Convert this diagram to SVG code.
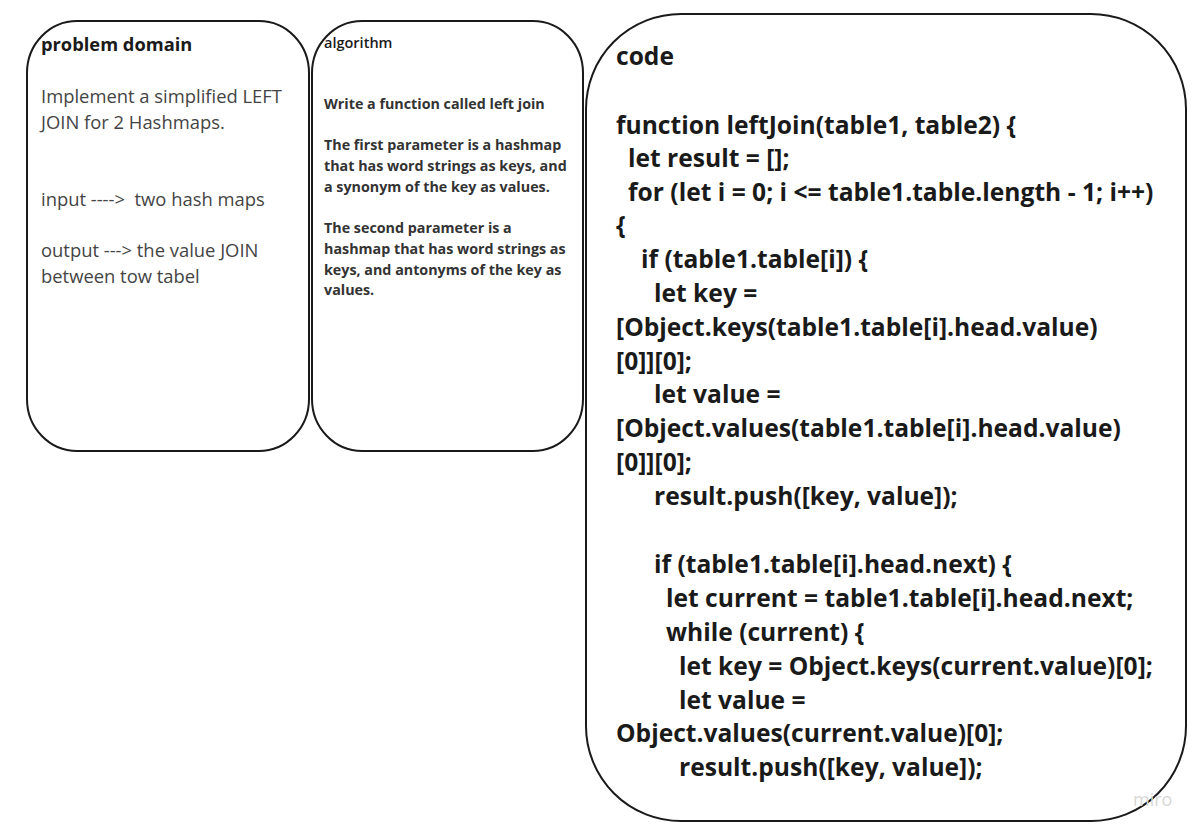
<svg xmlns="http://www.w3.org/2000/svg" width="1197" height="834" viewBox="0 0 1197 834">
<style>
.box{fill:#fff;stroke:#1a1a1a;stroke-width:2}
.t{font-family:"Open Sans","Liberation Sans",sans-serif}
.h1{font-size:18.3px;font-weight:700;fill:#1a1a1a}
.b1{font-size:18.4px;fill:#444}
.h2{font-size:14.5px;font-weight:600;fill:#1a1a1a}
.b2{font-size:14.3px;font-weight:700;fill:#333}
.c{font-size:24.6px;font-weight:700;fill:#1a1a1a}
</style>
<rect width="1197" height="834" fill="#fff"/>
<g id="problem-domain">
<rect class="box" x="27" y="21" width="282" height="430" rx="50" ry="52"/>
<text class="t h1" x="41" y="51">problem domain</text>
<text class="t b1" x="41" y="103">Implement a simplified LEFT</text>
<text class="t b1" x="41" y="129">JOIN for 2 Hashmaps.</text>
<text class="t b1" x="41" y="206" xml:space="preserve">input ---->  two hash maps</text>
<text class="t b1" x="41" y="257">output ---&gt; the value JOIN</text>
<text class="t b1" x="41" y="283">between tow tabel</text>
</g>
<g id="algorithm">
<rect class="box" x="312" y="21" width="271" height="430" rx="50" ry="52"/>
<text class="t h2" x="324" y="48">algorithm</text>
<text class="t b2" x="324" y="109">Write a function called left join</text>
<text class="t b2" x="324" y="150">The first parameter is a hashmap</text>
<text class="t b2" x="324" y="171">that has word strings as keys, and</text>
<text class="t b2" x="324" y="192">a synonym of the key as values.</text>
<text class="t b2" x="324" y="233">The second parameter is a</text>
<text class="t b2" x="324" y="254">hashmap that has word strings as</text>
<text class="t b2" x="324" y="275">keys, and antonyms of the key as</text>
<text class="t b2" x="324" y="295">values.</text>
</g>
<g id="code">
<rect class="box" x="586" y="14" width="600" height="807" rx="95" ry="95"/>
<text class="t c" x="616" y="65">code</text>
<text class="t c" x="616" y="134">function leftJoin(table1, table2) {</text>
<text class="t c" x="628" y="167">let result = [];</text>
<text class="t c" x="628" y="201">for (let i = 0; i &lt;= table1.table.length - 1; i++)</text>
<text class="t c" x="616" y="234">{</text>
<text class="t c" x="641" y="268">if (table1.table[i]) {</text>
<text class="t c" x="654" y="302">let key =</text>
<text class="t c" x="616" y="336">[Object.keys(table1.table[i].head.value)</text>
<text class="t c" x="616" y="370">[0]][0];</text>
<text class="t c" x="654" y="403">let value =</text>
<text class="t c" x="616" y="437">[Object.values(table1.table[i].head.value)</text>
<text class="t c" x="616" y="471">[0]][0];</text>
<text class="t c" x="654" y="505">result.push([key, value]);</text>
<text class="t c" x="654" y="573">if (table1.table[i].head.next) {</text>
<text class="t c" x="666" y="607">let current = table1.table[i].head.next;</text>
<text class="t c" x="666" y="641">while (current) {</text>
<text class="t c" x="679" y="675">let key = Object.keys(current.value)[0];</text>
<text class="t c" x="679" y="709">let value =</text>
<text class="t c" x="616" y="742">Object.values(current.value)[0];</text>
<text class="t c" x="679" y="776">result.push([key, value]);</text>
</g>
<text class="t" x="1133" y="806" font-size="18" fill="#d8d8d8">miro</text>
</svg>
